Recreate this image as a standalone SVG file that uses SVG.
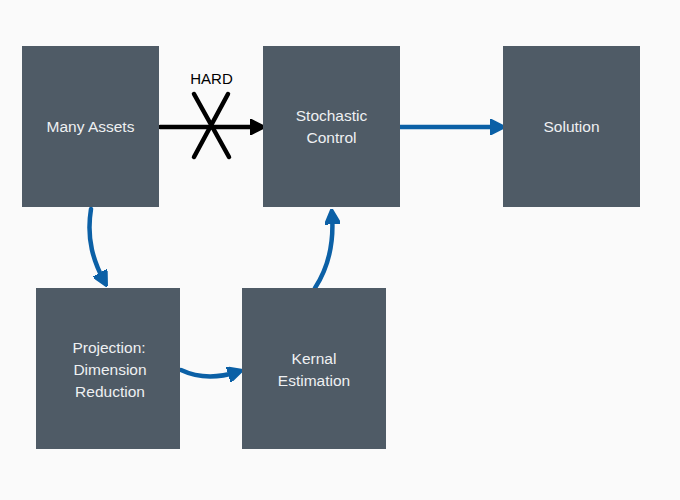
<svg xmlns="http://www.w3.org/2000/svg" width="680" height="500" viewBox="0 0 680 500">
<defs>
<style>
.box{fill:#4f5b66}
.lbl{font-family:"Liberation Sans",Arial,sans-serif;font-size:15.5px;fill:#eef0f2;text-anchor:middle}
.blue{fill:none;stroke:#0b60a6;stroke-width:4.5;stroke-linecap:round}
.blk{fill:none;stroke:#000;stroke-width:4.5;stroke-linecap:round}
</style>
<marker id="ab" viewBox="0 0 10 10" refX="6" refY="5" markerWidth="3.4" markerHeight="3.4" orient="auto" markerUnits="strokeWidth"><path d="M0,0 L10,5 L0,10 Z" fill="#0b60a6" stroke="#0b60a6" stroke-width="1.5" stroke-linejoin="round"/></marker>
<marker id="ak" viewBox="0 0 10 10" refX="6" refY="5" markerWidth="3.4" markerHeight="3.4" orient="auto" markerUnits="strokeWidth"><path d="M0,0 L10,5 L0,10 Z" fill="#000" stroke="#000" stroke-width="1.5" stroke-linejoin="round"/></marker>
</defs>
<rect width="680" height="500" fill="#fafafa"/>
<g id="connectors">
<path class="blk" d="M160,127 L259,127" marker-end="url(#ak)"/>
<path class="blk" d="M194,94 L229,157 M228,94 L194,157"/>
<text x="211.5" y="84" font-family="Liberation Sans,Arial,sans-serif" font-size="15" text-anchor="middle" fill="#000">HARD</text>
<path class="blue" d="M400,127 L499,127" marker-end="url(#ab)"/>
<path class="blue" d="M91,209 C86,240 94,262 104,281" marker-end="url(#ab)"/>
<path class="blue" d="M181,370 C198,378 218,378 237,372" marker-end="url(#ab)"/>
<path class="blue" d="M315,288 C328,268 334,242 332,215" marker-end="url(#ab)"/>
</g>
<g id="many-assets"><rect class="box" x="22" y="46" width="137" height="161"/><text class="lbl" x="90.5" y="132">Many Assets</text></g>
<g id="stochastic-control"><rect class="box" x="263" y="46" width="137" height="161"/><text class="lbl" x="331.5" y="121">Stochastic</text><text class="lbl" x="331.5" y="143">Control</text></g>
<g id="solution"><rect class="box" x="503" y="46" width="137" height="161"/><text class="lbl" x="571.5" y="132">Solution</text></g>
<g id="projection"><rect class="box" x="36" y="288" width="144" height="161"/><text class="lbl" x="109" y="353">Projection:</text><text class="lbl" x="110" y="375">Dimension</text><text class="lbl" x="110" y="397">Reduction</text></g>
<g id="kernal-estimation"><rect class="box" x="242" y="288" width="144" height="161"/><text class="lbl" x="314" y="364">Kernal</text><text class="lbl" x="314" y="386">Estimation</text></g>
</svg>
